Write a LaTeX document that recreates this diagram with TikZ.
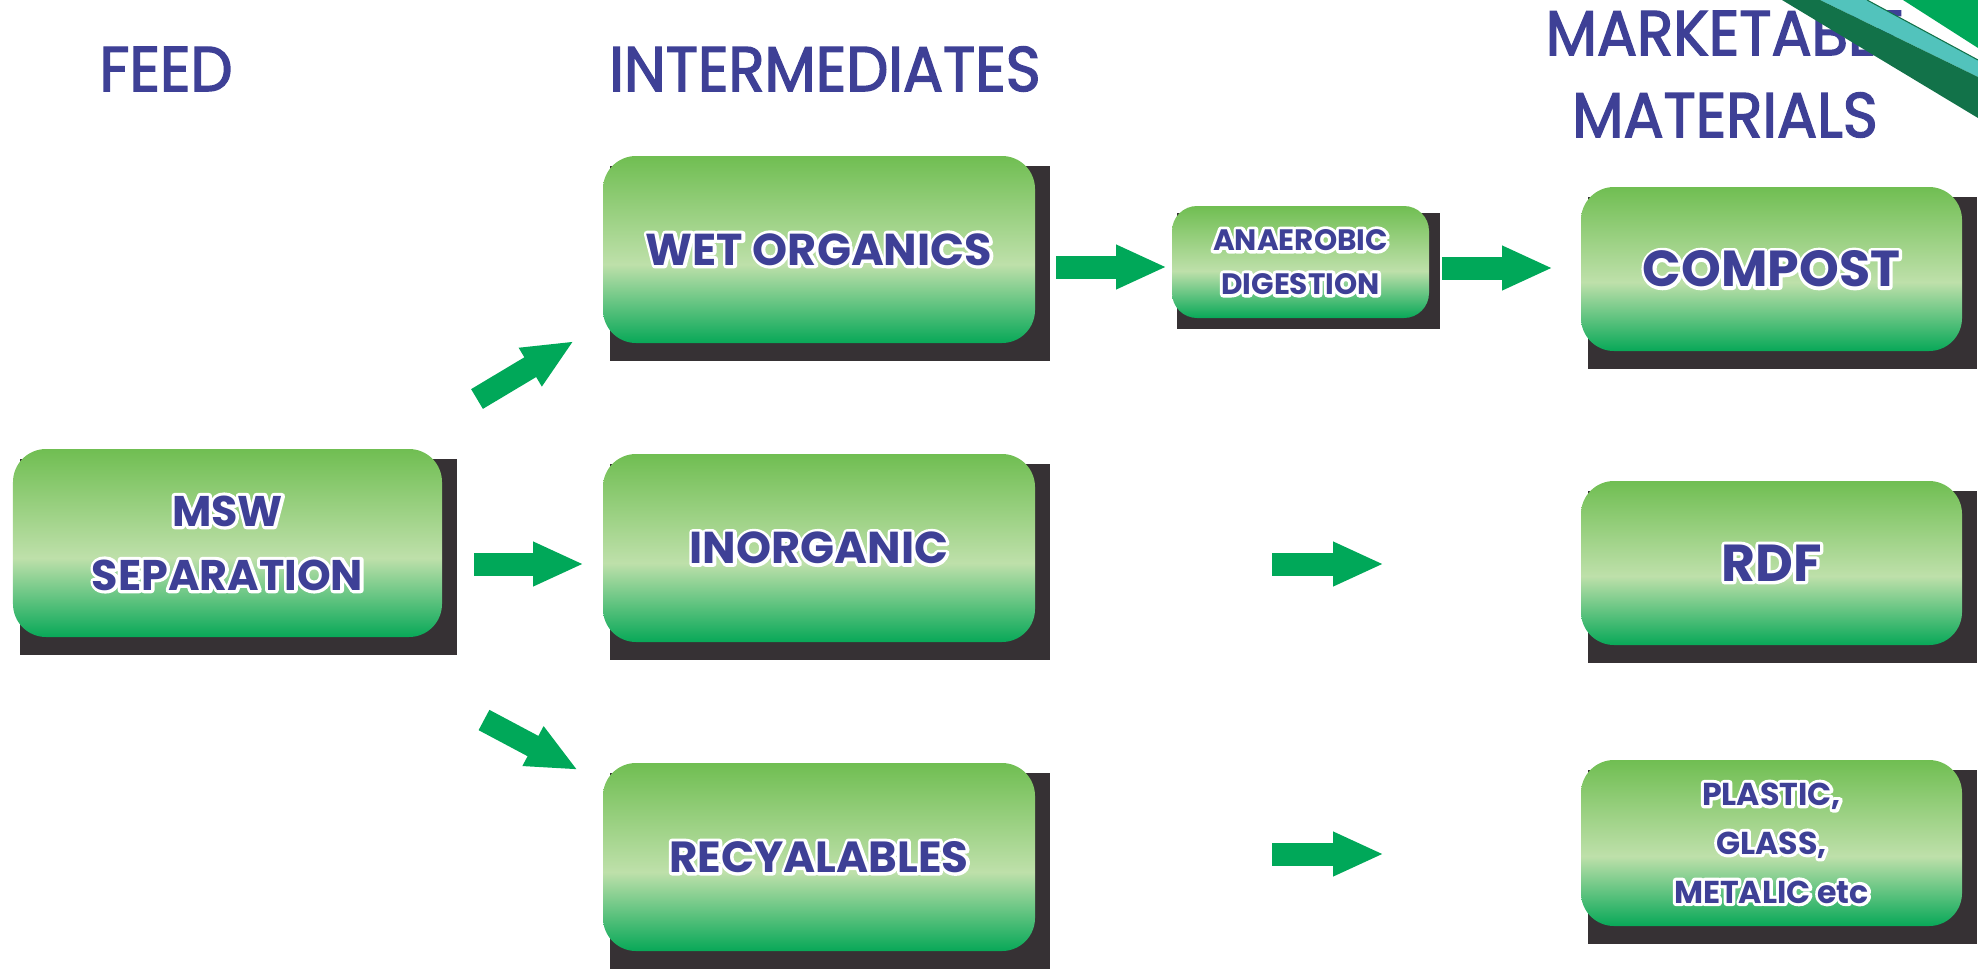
\documentclass[tikz,border=0pt]{standalone}
\usepackage{fontspec}
\setmainfont{Poppins}
\newfontfamily\titlefont[FakeStretch=0.94,FakeBold=2.2]{Poppins}
\newfontfamily\boxfont{Poppins}
\usetikzlibrary{arrows.meta,calc,backgrounds}

\definecolor{txtblue}{RGB}{62,64,150}
\definecolor{gtop}{RGB}{112,190,82}
\definecolor{gmid}{RGB}{190,224,170}
\definecolor{gbot}{RGB}{8,168,88}
\definecolor{shadowcol}{RGB}{54,49,52}
\definecolor{arrgreen}{RGB}{0,168,89}
\definecolor{stripdark}{RGB}{18,114,73}
\definecolor{stripteal}{RGB}{82,195,188}

\pgfdeclareverticalshading{boxshade}{100bp}{color(0bp)=(gbot); color(25bp)=(gbot); color(46bp)=(gmid); color(75bp)=(gtop); color(100bp)=(gtop)}

% white outline: stroked copy under the filled text
\newcommand{\ol}[1]{\leavevmode\rlap{\special{pdf:literal direct q 1 Tr 1.8 w 1 j}\textcolor{white}{#1}\special{pdf:literal direct Q}}#1}

\tikzset{
  greenbox/.style={rounded corners=0.33cm, shading=boxshade, text=txtblue, align=center, inner sep=0pt},
  bigbox/.style={greenbox, minimum width=4.32cm, minimum height=1.88cm},
  outbox/.style={greenbox, minimum width=3.81cm, minimum height=1.64cm},
  blockarr/.style={draw=arrgreen, line width=0.23cm, -{Triangle[length=0.51cm,width=0.41cm]}}
}

\begin{document}
\begin{tikzpicture}
  \useasboundingbox (0,0) rectangle (19.78,-9.70);

  % column titles
  \begin{scope}[every node/.style={font=\titlefont\fontsize{18}{20}\selectfont, text=txtblue}]
    \node (feed)   at (1.66,-0.69)  {FEED};
    \node (inter)  at (8.25,-0.69)  {INTERMEDIATES};
    \node (market) at (17.25,-0.33) {MARKETABLE};
    \node (mat)    at (17.25,-1.15) {MATERIALS};
  \end{scope}

  % boxes
  \node[bigbox, minimum width=4.29cm, font=\boxfont\bfseries\fontsize{12.2}{18.2}\selectfont]
    (msw) at (2.275,-5.43) {\ol{MSW}\\\ol{SEPARATION}};
  \node[bigbox, minimum height=1.87cm, font=\boxfont\bfseries\fontsize{12.7}{15}\selectfont]
    (wet) at (8.19,-2.495) {\ol{WET ORGANICS}};
  \node[bigbox, font=\boxfont\bfseries\fontsize{12.7}{15}\selectfont]
    (inorg) at (8.19,-5.48) {\ol{INORGANIC}};
  \node[bigbox, font=\boxfont\bfseries\fontsize{12.4}{15}\selectfont]
    (recy) at (8.19,-8.57) {\ol{RECYALABLES}};
  \node[greenbox, rounded corners=0.25cm, minimum width=2.57cm, minimum height=1.12cm,
    font=\boxfont\bfseries\fontsize{8.4}{12.5}\selectfont]
    (ad) at (13.005,-2.62) {\ol{ANAEROBIC}\\\ol{DIGESTION}};
  \node[outbox, font=\boxfont\bfseries\fontsize{14.4}{17}\selectfont]
    (compost) at (17.715,-2.69) {\ol{COMPOST}};
  \node[outbox, font=\boxfont\bfseries\fontsize{14.8}{17}\selectfont]
    (rdf) at (17.715,-5.63) {\ol{RDF}};
  \node[outbox, minimum height=1.66cm, font=\boxfont\bfseries\fontsize{9.0}{13.9}\selectfont]
    (plastic) at (17.715,-8.43) {\ol{PLASTIC,}\\\ol{GLASS,}\\\ol{METALIC etc}};

  % shadows
  \begin{scope}[on background layer]
    \foreach \n in {msw,wet,inorg,recy,compost,rdf,plastic}
      \fill[shadowcol] ($(\n.north west)+(0.08,-0.11)$) rectangle ($(\n.south east)+(0.14,-0.17)$);
    \fill[shadowcol] ($(ad.north west)+(0.06,-0.08)$) rectangle ($(ad.south east)+(0.10,-0.10)$);
  \end{scope}

  % arrows
  \coordinate (up1) at (4.77,-3.99);   \coordinate (up2) at (5.74,-3.41);
  \coordinate (mid1) at (4.74,-5.64);  \coordinate (mid2) at (5.84,-5.64);
  \coordinate (dn1) at (4.84,-7.20);   \coordinate (dn2) at (5.78,-7.70);
  \coordinate (wa1) at (10.56,-2.67);  \coordinate (wa2) at (11.67,-2.67);
  \coordinate (ac1) at (14.42,-2.68);  \coordinate (ac2) at (15.53,-2.68);
  \coordinate (ir1) at (12.72,-5.64);  \coordinate (ir2) at (13.84,-5.64);
  \coordinate (rp1) at (12.72,-8.54);  \coordinate (rp2) at (13.84,-8.54);
  \foreach \a in {up,mid,dn,wa,ac,ir,rp}
    \draw[blockarr] (\a1) -- (\a2);

  % corner stripes
  \fill[arrgreen] (19.03,0) -- (19.78,0) -- (19.78,-0.48) -- cycle;
  \fill[stripteal] (18.20,0) -- (18.67,0) -- (19.78,-0.60) -- (19.78,-0.77) -- cycle;
  \fill[stripdark] (17.82,0) -- (18.20,0) -- (19.78,-0.77) -- (19.78,-1.18) -- cycle;
  \draw[stripdark, line width=0.3pt] (18.67,0) -- (19.78,-0.60);
\end{tikzpicture}
\end{document}
